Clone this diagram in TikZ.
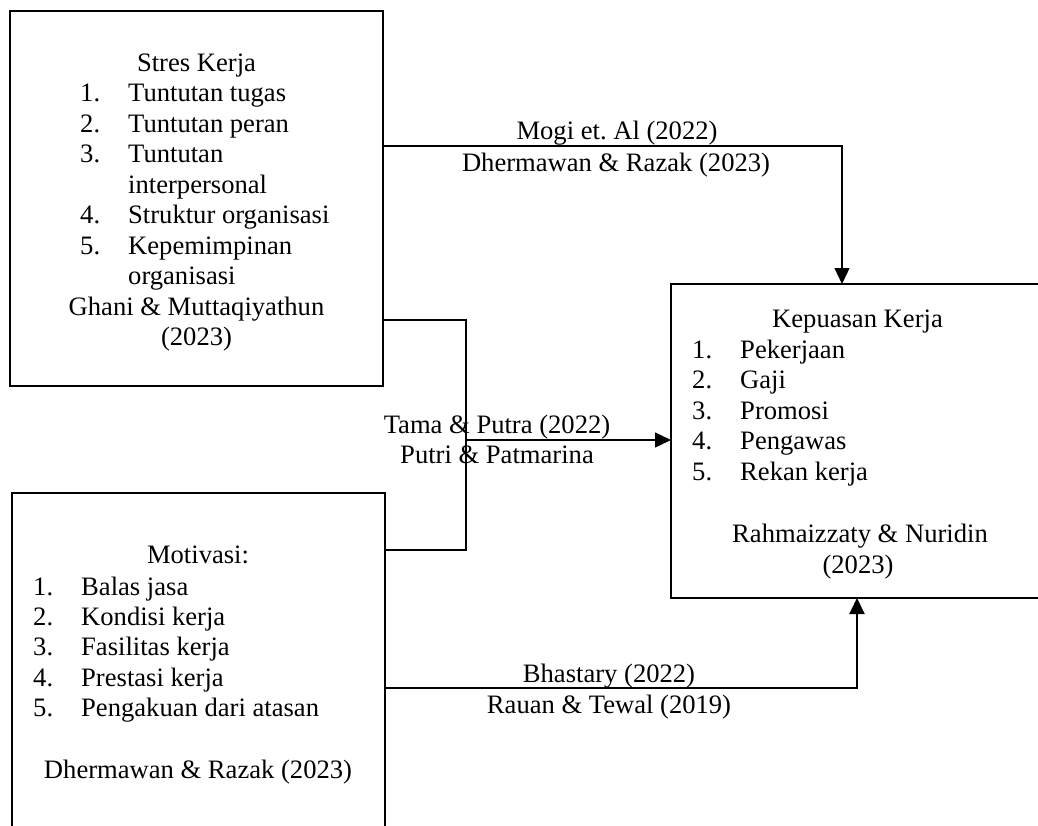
\documentclass[tikz,border=0pt]{standalone}
\usepackage{fontspec}
\setmainfont{Liberation Serif}
\usetikzlibrary{arrows.meta}
\frenchspacing
\begin{document}
\begin{tikzpicture}[x=1pt,y=1pt,
  box/.style={draw=black, line width=2pt, rectangle, inner sep=0pt, outer sep=0pt},
  txt/.style={font=\fontsize{26.6}{30.6}\selectfont, inner sep=0pt, anchor=base},
  lt/.style={txt, anchor=base west},
  thinline/.style={line width=1.2pt},
  thickline/.style={line width=2pt},
  tip/.style={-{Triangle[length=16pt,width=15pt]}}
]
\useasboundingbox (0,0) rectangle (1038,-825);
\clip (0,0) rectangle (1038,-825);
\fill[white] (0,0) rectangle (1038,-825);

% boxes
\node[box, minimum width=373pt, minimum height=375pt] (stres) at (196.5,-198.5) {};
\node[box, minimum width=373pt, minimum height=407pt] (motiv) at (198.5,-696.5) {};
\node[box, minimum width=375pt, minimum height=314pt] (kep) at (858.5,-441) {};

% Stres Kerja text
\node[txt] (s0) at (196.5,-71) {Stres Kerja};
\node[lt] (s1n) at (80,-101.5) {1.};
\node[lt] (s1) at (128,-101.5) {Tuntutan tugas};
\node[lt] (s2n) at (80,-132) {2.};
\node[lt] (s2) at (128,-132) {Tuntutan peran};
\node[lt] (s3n) at (80,-162.5) {3.};
\node[lt] (s3) at (128,-162.5) {Tuntutan};
\node[lt] (s3b) at (128,-193) {interpersonal};
\node[lt] (s4n) at (80,-223.5) {4.};
\node[lt] (s4) at (128,-223.5) {Struktur organisasi};
\node[lt] (s5n) at (80,-254) {5.};
\node[lt] (s5) at (128,-254) {Kepemimpinan};
\node[lt] (s5b) at (128,-284.5) {organisasi};
\node[txt] (sref) at (196.5,-315) {Ghani \& Muttaqiyathun};
\node[txt] (sref2) at (196.5,-345.5) {(2023)};

% Motivasi text
\node[txt] (m0) at (198,-563) {Motivasi:};
\node[lt] (m1n) at (33,-595) {1.};
\node[lt] (m1) at (81,-595) {Balas jasa};
\node[lt] (m2n) at (33,-625) {2.};
\node[lt] (m2) at (81,-625) {Kondisi kerja};
\node[lt] (m3n) at (33,-655.5) {3.};
\node[lt] (m3) at (81,-655.5) {Fasilitas kerja};
\node[lt] (m4n) at (33,-686) {4.};
\node[lt] (m4) at (81,-686) {Prestasi kerja};
\node[lt] (m5n) at (33,-716.5) {5.};
\node[lt] (m5) at (81,-716.5) {Pengakuan dari atasan};
\node[txt] (mref) at (198,-778) {Dhermawan \& Razak (2023)};

% Kepuasan Kerja text
\node[txt] (k0) at (857.5,-327) {Kepuasan Kerja};
\node[lt] (k1n) at (692,-358) {1.};
\node[lt] (k1) at (740,-358) {Pekerjaan};
\node[lt] (k2n) at (692,-388.5) {2.};
\node[lt] (k2) at (740,-388.5) {Gaji};
\node[lt] (k3n) at (692,-419) {3.};
\node[lt] (k3) at (740,-419) {Promosi};
\node[lt] (k4n) at (692,-449.5) {4.};
\node[lt] (k4) at (740,-449.5) {Pengawas};
\node[lt] (k5n) at (692,-480) {5.};
\node[lt] (k5) at (740,-480) {Rekan kerja};
\node[txt] (kref) at (860,-542.5) {Rahmaizzaty \& Nuridin};
\node[txt] (kref2) at (858,-573) {(2023)};

% connector labels
\node[txt] (l1a) at (617,-139) {Mogi et. Al (2022)};
\node[txt] (l1b) at (616,-171) {Dhermawan \& Razak (2023)};
\node[txt] (l2a) at (497,-433) {Tama \& Putra (2022)};
\node[txt] (l2b) at (497,-463) {Putri \& Patmarina};
\node[txt] (l3a) at (609,-682) {Bhastary (2022)};
\node[txt] (l3b) at (609,-713) {Rauan \& Tewal (2019)};

% connectors
\coordinate (topbend) at (842,-146);
\draw[thinline, tip] (stres.east |- topbend) -- (topbend) -- (kep.north -| topbend);

\coordinate (jtop) at (466,-320);
\coordinate (jbot) at (466,-550);
\coordinate (junc) at (466,-440);
\draw[thickline] (stres.east |- jtop) -- (jtop) -- (jbot) -- (motiv.east |- jbot);
\draw[thinline, tip] (junc) -- (kep.west |- junc);

\coordinate (botbend) at (857,-688);
\draw[thickline, tip] (motiv.east |- botbend) -- (botbend) -- (kep.south -| botbend);
\end{tikzpicture}
\end{document}
